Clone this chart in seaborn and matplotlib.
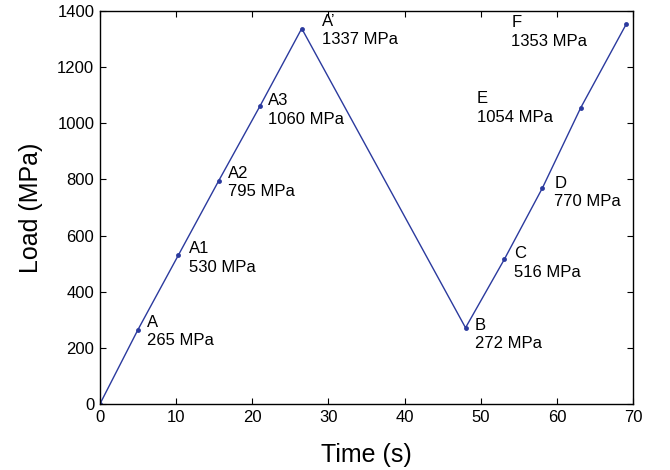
import pandas as pd
import numpy as np
import matplotlib
matplotlib.use("Agg")
import matplotlib.pyplot as plt
import seaborn as sns

# load path
time_s = [0.0, 5.0, 10.3, 15.6, 21.0, 26.5, 48.0, 53.1, 58.1, 63.1, 69.1]
load_mpa = [0, 265, 530, 795, 1060, 1337, 272, 516, 770, 1054, 1353]
point_names = ["", "A", "A1", "A2", "A3", "A\u2019", "B", "C", "D", "E", "F"]

# label offsets in pixels (dx, dy to top of label)
label_offsets = [None, (9, 15), (11, 14), (9, 15), (8, 13), (20, 15),
                 (9, 10), (10, 13), (12, 12), (-104, 17), (-115, 9)]

sns.set_style("ticks")
plt.rcParams['font.family'] = ['Liberation Sans', 'DejaVu Sans']
plt.rcParams.update({'text.color': 'black', 'axes.labelcolor': 'black',
                     'xtick.color': 'black', 'ytick.color': 'black'})

df = pd.DataFrame({'time': time_s, 'load': load_mpa, 'name': point_names})

fig = plt.figure(figsize=(6.7, 4.7), dpi=100)
ax = fig.add_axes([0.149, 0.140, 0.796, 0.837])
sns.lineplot(data=df, x='time', y='load', sort=False, color='#2b3a9e', lw=1,
             marker='o', markersize=3.5, markeredgewidth=0, ax=ax)

for x, y, s, off in zip(df['time'], df['load'], df['name'], label_offsets):
    if not s:
        continue
    ax.annotate(f"{s}\n{y} MPa", xy=(x, y), xytext=off, textcoords='offset pixels',
                ha='left', va='top', fontsize=12, linespacing=1.3)

ax.set_xlim(0, 70)
ax.set_ylim(0, 1400)
ax.set_xticks(np.arange(0, 71, 10))
ax.set_yticks(np.arange(0, 1401, 200))
ax.tick_params(direction='in', top=True, right=True, length=4, width=0.8,
               labelsize=12, pad=4)
for sp in ax.spines.values():
    sp.set_linewidth(1)
    sp.set_color('black')
ax.set_xlabel("Time (s)", fontsize=18, labelpad=13)
ax.set_ylabel("Load (MPa)", fontsize=18, labelpad=10)

fig.savefig("out.png", dpi=100)
